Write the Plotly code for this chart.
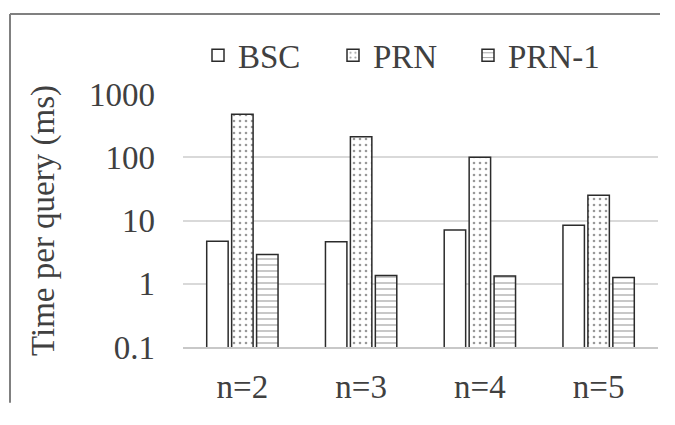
import plotly.graph_objects as go

categories = ["n=2", "n=3", "n=4", "n=5"]
bsc = [4.7, 4.6, 7.1, 8.4]
prn = [480, 210, 100, 25]
prn1 = [2.9, 1.35, 1.33, 1.25]
tick_vals = [0.1, 1, 10, 100, 1000]
tick_text = ["0.1", "1", "10", "100", "1000"]

# page has an 8px body margin; figure kept a bit smaller than the window so no scrollbars appear
OFF = 8
W, H = 655, 402
ml, mr, mt, mb = 175, 5, 86, 57
font = "Liberation Serif, Times New Roman, serif"
edge = "#2b2b2b"
txt = "#404040"

fig = go.Figure()
fig.add_trace(go.Bar(name="BSC", x=categories, y=bsc,
                     marker=dict(color="white", line=dict(color=edge, width=1.5))))
fig.add_trace(go.Bar(name="PRN", x=categories, y=prn,
                     marker=dict(color="white", line=dict(color=edge, width=1.5),
                                 pattern=dict(shape=".", fgcolor="#333333", bgcolor="white",
                                              size=6, solidity=0.15))))
fig.add_trace(go.Bar(name="PRN-1", x=categories, y=prn1,
                     marker=dict(color="white", line=dict(color=edge, width=1.5),
                                 pattern=dict(shape="-", fgcolor="#333333", bgcolor="white",
                                              size=6, solidity=0.18))))

pw = W - ml - mr
ph = H - mt - mb
def px2x(p):  # page pixel -> paper x
    return (p - OFF - ml) / pw
def py2y(p):  # page pixel -> paper y
    return (H - mb - (p - OFF)) / ph

frame = dict(color="#808080", width=2)
fig.add_shape(type="line", xref="paper", yref="paper",
              x0=px2x(10), x1=px2x(OFF + W - 3), y0=py2y(12), y1=py2y(12), line=frame, layer="below")
fig.add_shape(type="line", xref="paper", yref="paper",
              x0=px2x(10), x1=px2x(10), y0=py2y(12), y1=py2y(OFF + H), line=frame, layer="below")

fig.update_layout(
    width=W, height=H,
    margin=dict(l=ml, r=mr, t=mt, b=mb),
    paper_bgcolor="white", plot_bgcolor="white",
    barmode="group", bargap=0.37, bargroupgap=0.14,
    font=dict(family=font, size=33, color=txt),
    showlegend=True,
    legend=dict(orientation="h", x=px2x(198), xanchor="left",
                y=py2y(83), yanchor="bottom",
                font=dict(family=font, size=33, color=txt),
                entrywidth=90, entrywidthmode="pixels",
                itemwidth=30, bgcolor="rgba(0,0,0,0)"),
    xaxis=dict(showline=True, linecolor="#c8c8c8", linewidth=1.5, ticks="",
               ticklabelstandoff=10,
               tickfont=dict(family=font, size=33, color=txt),
               showgrid=False),
    yaxis=dict(type="log", range=[-1, 3], tickvals=tick_vals, ticktext=tick_text,
               showgrid=True, gridcolor="#d9d9d9", gridwidth=1.5,
               showline=False, zeroline=False, ticks="",
               ticklabelstandoff=27,
               tickfont=dict(family=font, size=33, color=txt),
               title=dict(text="Time per query (ms)", standoff=24,
                          font=dict(family=font, size=33, color=txt))),
)

fig.write_html("out.html")
